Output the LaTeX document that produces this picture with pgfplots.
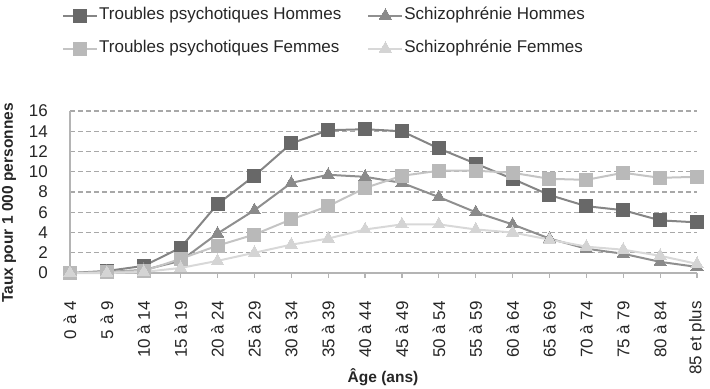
\documentclass[border=0pt]{standalone}
\usepackage{fontspec}
\setmainfont{Liberation Sans}
\usepackage{pgfplots}
\usepackage{pgfplotstable}
\pgfplotsset{compat=1.18}
\definecolor{c1m}{HTML}{686868}
\definecolor{c1l}{HTML}{858585}
\definecolor{c2m}{HTML}{8A8A8A}
\definecolor{c2l}{HTML}{8F8F8F}
\definecolor{c3m}{HTML}{B9B9B9}
\definecolor{c3l}{HTML}{C4C4C4}
\definecolor{c4m}{HTML}{D4D4D4}
\definecolor{c4l}{HTML}{D8D8D8}
\definecolor{axisgray}{HTML}{B4B4B4}
\definecolor{gridgray}{HTML}{A8A8A8}
\pgfplotstableread{
x tph schh tpf schf
0 0.0 0.0 0.0 0.0
1 0.2 0.1 0.1 0.0
2 0.7 0.3 0.2 0.1
3 2.5 1.2 1.4 0.5
4 6.8 3.9 2.7 1.2
5 9.6 6.2 3.8 2.0
6 12.8 8.9 5.3 2.8
7 14.1 9.7 6.6 3.4
8 14.2 9.5 8.4 4.3
9 14.0 8.9 9.6 4.8
10 12.3 7.5 10.1 4.8
11 10.8 6.0 10.1 4.3
12 9.3 4.8 9.9 4.0
13 7.7 3.4 9.3 3.3
14 6.6 2.4 9.2 2.6
15 6.2 1.9 9.9 2.3
16 5.2 1.1 9.4 1.7
17 5.0 0.6 9.5 0.9
}\datatable
\begin{document}
\begin{tikzpicture}
\useasboundingbox (-70bp,-116bp) rectangle (640bp,273bp);
\begin{axis}[
  scale only axis,
  width=627bp, height=162bp,
  xmin=0, xmax=17, ymin=0, ymax=16,
  clip=false,
  axis x line=bottom, axis y line=left,
  axis line style={-, draw=axisgray, line width=1.6bp},
  xtick={0,...,17},
  xticklabels={0 à 4,5 à 9,10 à 14,15 à 19,20 à 24,25 à 29,30 à 34,35 à 39,40 à 44,45 à 49,50 à 54,55 à 59,60 à 64,65 à 69,70 à 74,75 à 79,80 à 84,85 et plus},
  ytick={0,2,...,16},
  tick align=outside,
  major tick length=5bp,
  xtick style={draw=axisgray, line width=1.2bp},
  ytick style={draw=none},
  ymajorgrids,
  major grid style={draw=gridgray, line width=1.1bp, dash pattern=on 5bp off 3bp},
  /pgf/number format/assume math mode=true,
  ticklabel style={font=\fontsize{17bp}{20bp}\selectfont, text=black!85, inner sep=0pt},
  xticklabel style={rotate=90, anchor=east},
  xticklabel shift=23bp,
  yticklabel style={anchor=east},
  yticklabel shift=17bp,
  xlabel={Âge (ans)},
  ylabel={Taux pour 1 000 personnes},
  every axis x label/.style={at={(axis description cs:0.4992,-0.673)}, anchor=base, font=\fontsize{15.5bp}{18bp}\selectfont\bfseries, text=black!85},
  every axis y label/.style={at={(axis description cs:-0.0973,0.432)}, rotate=90, anchor=center, font=\fontsize{15.5bp}{18bp}\selectfont\bfseries, text=black!85},
  legend columns=2,
  legend cell align=left,
  legend style={at={(axis description cs:-0.0128,1.645)}, anchor=north west, draw=none, fill=none, inner sep=0pt,
    font=\fontsize{17bp}{20bp}\selectfont, text=black!85,
    nodes={inner sep=1bp, text height=12bp, text depth=4bp},
    row sep=15bp,
    /tikz/every even column/.append style={column sep=25bp}},
  legend image code/.code={\draw[mark repeat=2,mark phase=2,#1] plot coordinates {(0bp,0bp)(17bp,0bp)(34bp,0bp)};},
]
\addplot[draw=c1l, line width=2bp, mark=square*, mark size=6.5bp, mark options={fill=c1m, draw=c1m, line width=0pt}] table[x=x,y=tph]{\datatable};
\addlegendentry{Troubles psychotiques Hommes}
\addplot[draw=c2l, line width=2bp, mark=triangle*, mark size=7bp, mark options={fill=c2m, draw=c2m, line width=0pt}] table[x=x,y=schh]{\datatable};
\addlegendentry{Schizophrénie Hommes}
\addplot[draw=c3l, line width=2bp, mark=square*, mark size=6.5bp, mark options={fill=c3m, draw=c3m, line width=0pt}] table[x=x,y=tpf]{\datatable};
\addlegendentry{Troubles psychotiques Femmes}
\addplot[draw=c4l, line width=2bp, mark=triangle*, mark size=7bp, mark options={fill=c4m, draw=c4m, line width=0pt}] table[x=x,y=schf]{\datatable};
\addlegendentry{Schizophrénie Femmes}
\end{axis}
\end{tikzpicture}
\end{document}
